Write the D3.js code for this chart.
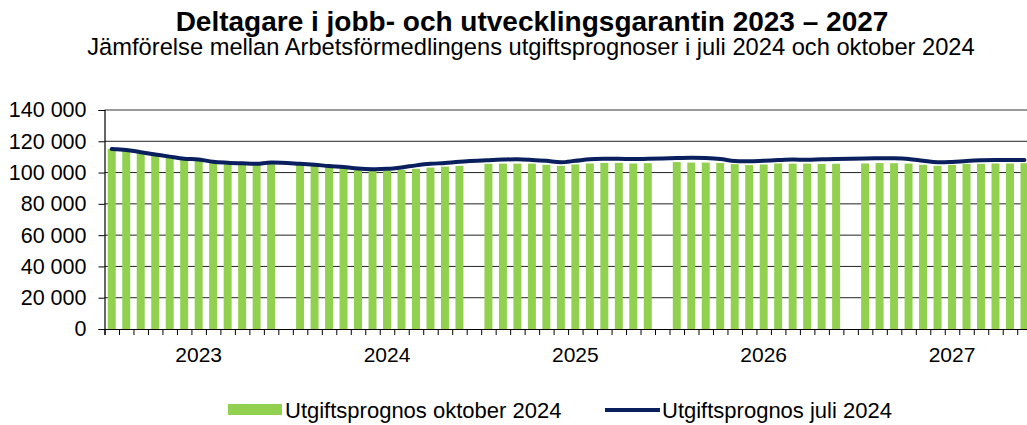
<!DOCTYPE html>
<html>
<head>
<meta charset="utf-8">
<script src="https://cdn.jsdelivr.net/npm/d3@7"></script>
<style>
  html, body { margin: 0; padding: 0; background: #fff; }
  svg { display: block; font-family: "Liberation Sans", Arial, sans-serif; }
</style>
</head>
<body>
<svg id="chart" width="1027" height="425"></svg>
<script>
// ---------- DATA ----------
const years = ["2023", "2024", "2025", "2026", "2027"];
const months = ["jan", "feb", "mar", "apr", "maj", "jun", "jul", "aug", "sep", "okt", "nov", "dec"];

// Utgiftsprognos oktober 2024 (bars), monthly Jan 2023 – Dec 2027
const prognosOktober2024 = [
  115100, 114500, 113000, 111600, 110200, 108900, 108400, 106900, 106300, 105900, 105600, 106400,
  105000, 104300, 103500, 102900, 102000, 101600, 101200, 101700, 102400, 103200, 103800, 104300,
  105600, 105700, 105700, 105700, 105000, 104300, 105200, 105800, 106200, 106200, 105800, 106000,
  106700, 106400, 106400, 106100, 105400, 104800, 105200, 105800, 105700, 105700, 105500, 105600,
  105800, 106100, 106000, 105700, 105000, 104300, 104900, 105500, 105600, 105800, 105800, 106000
];

// Utgiftsprognos juli 2024 (line), monthly Jan 2023 – Dec 2027
const prognosJuli2024 = [
  115100, 114500, 113000, 111600, 110200, 108900, 108400, 106900, 106300, 105900, 105600, 106400,
  105600, 105000, 104200, 103600, 102600, 102200, 102400, 103300, 104600, 105600, 106100, 106900,
  107900, 108300, 108500, 108100, 107500, 106600, 107500, 108500, 108800, 108800, 108600, 108800,
  109300, 109500, 109300, 108700, 107400, 107200, 107600, 108000, 108300, 108200, 108500, 108700,
  109000, 109100, 109100, 108700, 107600, 106600, 106800, 107400, 107800, 108000, 108000, 108000
];

const yTicks = [0, 20000, 40000, 60000, 80000, 100000, 120000, 140000];

const titleText = "Deltagare i jobb- och utvecklingsgarantin 2023 – 2027";
const subtitleText = "Jämförelse mellan Arbetsförmedlingens utgiftsprognoser i juli 2024 och oktober 2024";
const seriesNames = ["Utgiftsprognos oktober 2024", "Utgiftsprognos juli 2024"];

// ---------- BUILD ----------
// Category slots: 12 months per year followed by one empty slot between years
const slots = [];
const monthKeys = [];
years.forEach((y, yi) => {
  months.forEach(m => { slots.push(y + "-" + m); monthKeys.push(y + "-" + m); });
  if (yi < years.length - 1) slots.push("gap-" + y);
});

const rows = monthKeys.map((k, i) => ({ key: k, okt: prognosOktober2024[i], jul: prognosJuli2024[i] }));

const svg = d3.select("#chart");
const W = 1027, H = 425;
svg.append("rect").attr("width", W).attr("height", H).attr("fill", "#fff");

const plot = { left: 104.5, right: 1031.7, top: 110, bottom: 329 };

const pad = 0.45;
const x = d3.scaleBand().domain(slots).range([plot.left, plot.right])
  .paddingInner(pad).paddingOuter(pad / 2);
const y = d3.scaleLinear().domain([0, 140000]).range([plot.bottom, plot.top]);

const locale = d3.formatLocale({ decimal: ",", thousands: " ", grouping: [3], currency: ["", ""] });
const fmt = locale.format(",");

const GREEN = "#92D050";
const NAVY = "#0A1F5E";

// gridlines
svg.append("g").selectAll("line")
  .data(yTicks.filter(t => t > 0 && t < 140000))
  .join("line")
  .attr("x1", plot.left).attr("x2", plot.right)
  .attr("y1", d => y(d)).attr("y2", d => y(d))
  .attr("stroke", "#222").attr("stroke-width", 1);

// top border
svg.append("line")
  .attr("x1", plot.left).attr("x2", plot.right)
  .attr("y1", y(140000)).attr("y2", y(140000))
  .attr("stroke", "#9a9a9a").attr("stroke-width", 2);

// bars
svg.append("g").selectAll("rect")
  .data(rows)
  .join("rect")
  .attr("x", d => x(d.key))
  .attr("width", x.bandwidth())
  .attr("y", d => y(d.okt))
  .attr("height", d => y(0) - y(d.okt))
  .attr("fill", GREEN);

// line
const line = d3.line()
  .x(d => x(d.key) + x.bandwidth() / 2)
  .y(d => y(d.jul))
  .curve(d3.curveCatmullRom.alpha(0.5));
svg.append("path")
  .datum(rows)
  .attr("d", line)
  .attr("fill", "none")
  .attr("stroke", NAVY)
  .attr("stroke-width", 4)
  .attr("stroke-linecap", "round")
  .attr("stroke-linejoin", "round");

// y axis
const yAxis = d3.axisLeft(y).tickValues(yTicks).tickSize(6).tickPadding(12).tickFormat(d => fmt(d));
const gy = svg.append("g").attr("transform", `translate(${plot.left},0)`).call(yAxis);
gy.select(".domain").attr("stroke", "#000").attr("stroke-width", 1.2);
gy.selectAll(".tick line").attr("stroke", "#000");
gy.selectAll("text").attr("font-size", 21.5).attr("fill", "#000")
  .attr("font-family", "Liberation Sans, Arial, sans-serif");

// x axis: ticks at slot boundaries
const xb = d3.scaleLinear().domain([0, slots.length]).range([plot.left, plot.right]);
const xAxis = d3.axisBottom(xb).tickValues(d3.range(0, slots.length + 1)).tickSize(6).tickFormat("");
const gx = svg.append("g").attr("transform", `translate(0,${plot.bottom})`).call(xAxis);
gx.select(".domain").attr("stroke", "#000").attr("stroke-width", 1.2);
gx.selectAll(".tick line").attr("stroke", "#000");

// year labels, centered on the middle slot (jul) of each year group
svg.append("g").selectAll("text")
  .data(years)
  .join("text")
  .attr("x", d => x(d + "-jul") + x.bandwidth() / 2)
  .attr("y", 362)
  .attr("text-anchor", "middle")
  .attr("font-size", 21)
  .attr("fill", "#000")
  .text(d => d);

// title
svg.append("text").attr("x", 532).attr("y", 31).attr("text-anchor", "middle")
  .attr("font-size", 28).attr("font-weight", "bold").attr("fill", "#000").text(titleText);
svg.append("text").attr("x", 531).attr("y", 55).attr("text-anchor", "middle")
  .attr("font-size", 23.7).attr("fill", "#000").text(subtitleText);

// legend
const lg = svg.append("g");
lg.append("rect").attr("x", 228).attr("y", 404).attr("width", 54).attr("height", 11).attr("fill", GREEN);
lg.append("text").attr("x", 285).attr("y", 418).attr("font-size", 22).attr("fill", "#000").text(seriesNames[0]);
lg.append("line").attr("x1", 605).attr("x2", 660).attr("y1", 410).attr("y2", 410)
  .attr("stroke", NAVY).attr("stroke-width", 4);
lg.append("text").attr("x", 662).attr("y", 418).attr("font-size", 22).attr("fill", "#000").text(seriesNames[1]);
</script>
</body>
</html>
